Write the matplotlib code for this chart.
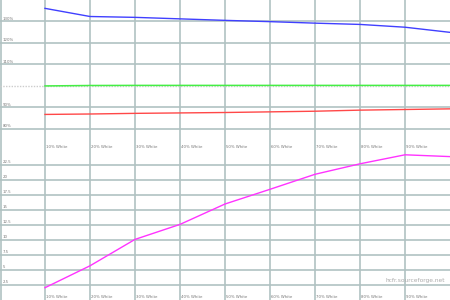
import matplotlib
matplotlib.use("Agg")
import matplotlib.pyplot as plt

x_pos = [10, 20, 30, 40, 50, 60, 70, 80, 90, 100]
x_labels = ["10% White", "20% White", "30% White", "40% White", "50% White",
            "60% White", "70% White", "80% White", "90% White"]

blue = [136.1, 132.3, 131.9, 131.2, 130.5, 129.9, 129.2, 128.6, 127.3, 124.9]
green = [99.9, 100.1, 100.15, 100.15, 100.15, 100.15, 100.15, 100.15, 100.15, 100.15]
red = [86.6, 86.8, 87.1, 87.3, 87.5, 87.8, 88.1, 88.6, 88.9, 89.2]
magenta = [2.05, 5.7, 10.1, 12.6, 16.0, 18.45, 20.95, 22.7, 24.2, 23.9]

top_ticks = [80, 90, 110, 120, 130]
top_tick_labels = ["80%", "90%", "110%", "120%", "130%"]
bot_ticks = [2.5, 5, 7.5, 10, 12.5, 15, 17.5, 20, 22.5]
bot_tick_labels = ["2.5", "5", "7.5", "10", "12.5", "15", "17.5", "20", "22.5"]

grid_c = "#b0c2c2"
fig = plt.figure(figsize=(4.5, 3), dpi=100)
fig.patch.set_facecolor("white")
ax1 = fig.add_axes([0, 0.5, 1, 0.5])
ax2 = fig.add_axes([0, 0, 1, 0.5])

for ax, ylim, ticks, labels in [(ax1, (70, 140), top_ticks, top_tick_labels),
                                (ax2, (0, 25), bot_ticks, bot_tick_labels)]:
    ax.set_xlim(0, 100)
    ax.set_ylim(*ylim)
    for s in ax.spines.values():
        s.set_visible(False)
    ax.set_xticks([])
    ax.set_yticks([])
    for xv in x_pos[:-1]:
        ax.axvline(xv, color=grid_c, lw=1.2, zorder=1)
    for yv in ticks:
        ax.axhline(yv, color=grid_c, lw=1.2, zorder=1)
    ax.axvline(0.25, color=grid_c, lw=1.2, zorder=1)
    span = ylim[1] - ylim[0]
    for yv, lab in zip(ticks, labels):
        ax.text(0.6, yv + span * 0.004, lab, fontsize=2.8, color="#777777",
                ha="left", va="bottom")
    for xv, lab in zip(x_pos[:-1], x_labels):
        ax.text(xv + 0.3, ylim[0] + span * 0.01, lab, fontsize=2.8, color="#777777",
                ha="left", va="bottom")

ax1.axhline(100, color="#cccccc", lw=1, ls=(0, (1, 1)), zorder=1)
ax1.plot(x_pos, blue, color="#4040ff", lw=1, zorder=3)
ax1.plot(x_pos, green, color="#44ee44", lw=1.1, zorder=3)
ax1.plot(x_pos, red, color="#ff4848", lw=1, zorder=3)
ax2.plot(x_pos, magenta, color="#ff33ff", lw=1, zorder=3)
ax2.text(99, 2.9, "hcfr.sourceforge.net", fontsize=4.2, color="#aaaaaa",
         ha="right", va="bottom")

fig.savefig("out.png", dpi=100)
